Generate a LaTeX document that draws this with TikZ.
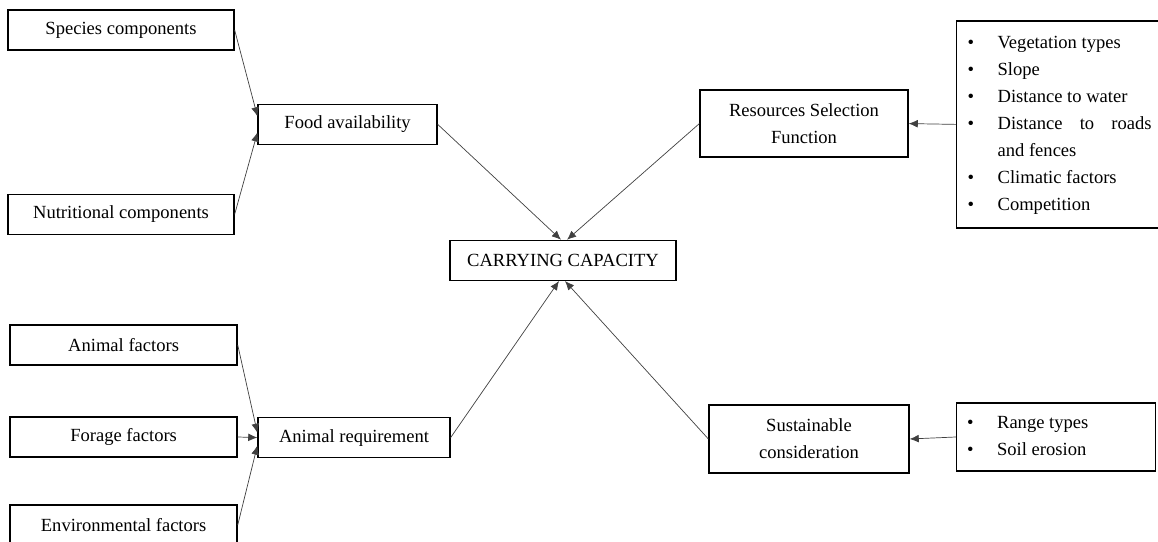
\documentclass[tikz,border=0pt]{standalone}
\usepackage{fontspec}
\setmainfont{Liberation Serif}
\usepackage{array}
\usetikzlibrary{arrows.meta}

\begin{document}
\begin{tikzpicture}[
  box/.style={draw, line width=0.9pt, inner sep=0pt, align=center,
    font=\fontsize{13.2}{19.2}\selectfont},
  listbox/.style={draw, line width=0.9pt, inner xsep=0.225cm, inner ysep=0pt,
    anchor=west, font=\fontsize{13.2}{19.2}\selectfont},
  link/.style={-{Latex[length=6.5pt,width=5.5pt]}, draw=black!75, line width=0.5pt}]
  \useasboundingbox (0,0) rectangle (28.95,13.55);

  % left hand inputs
  \node[box, minimum width=5.65cm, minimum height=1cm] (species) at (3.025,12.8) {Species components};
  \node[box, minimum width=5.65cm, minimum height=1cm] (nutrition) at (3.025,8.19) {Nutritional components};
  \node[box, minimum width=5.675cm, minimum height=1cm] (animal) at (3.09,4.925) {Animal factors};
  \node[box, minimum width=5.675cm, minimum height=1cm] (forage) at (3.09,2.625) {Forage factors};
  \node[box, minimum width=5.675cm, minimum height=1cm] (environ) at (3.09,0.425) {Environmental factors};

  \node[box, minimum width=4.475cm, minimum height=1cm] (food) at (8.69,10.44) {Food availability};
  \node[box, minimum width=4.8cm, minimum height=1cm] (needs) at (8.85,2.61) {Animal requirement};

  \node[box, minimum width=5.65cm, minimum height=1cm] (cc) at (14.075,7.04) {CARRYING CAPACITY};

  % right hand side
  \node[box, minimum width=5.2cm, minimum height=1.675cm] (rsf) at (20.1,10.46) {Resources Selection\\Function};
  \node[box, minimum width=5cm, minimum height=1.7cm] (sust) at (20.225,2.575) {Sustainable\\consideration};

  \node[listbox, minimum width=5.15cm, minimum height=5.175cm] (rsflist) at (23.9,10.44) {%
    \begin{tabular}{@{}p{0.75cm}@{}p{3.85cm}@{}}
      \textbullet & Vegetation types\\
      \textbullet & Slope\\
      \textbullet & Distance to water\\
      \textbullet & Distance to roads and fences\\
      \textbullet & Climatic factors\\
      \textbullet & Competition
    \end{tabular}};
  \node[listbox, minimum width=4.975cm, minimum height=1.7cm] (rangelist) at (23.9,2.625) {%
    \begin{tabular}{@{}p{0.75cm}@{}p{3.7cm}@{}}
      \textbullet & Range types\\
      \textbullet & Soil erosion
    \end{tabular}};

  \draw[link] (species.east) -- ([yshift=0.2cm]food.west);
  \draw[link] (nutrition.east) -- ([yshift=-0.2cm]food.west);

  \draw[link] (animal.east) -- ([yshift=0.12cm]needs.west);
  \draw[link] (forage.east) -- (needs.west);
  \draw[link] (environ.east) -- ([yshift=-0.2cm]needs.west);

  \draw[link] (food.east) -- ([xshift=-0.05cm]cc.north);
  \draw[link] (rsf.west) -- ([xshift=0.1cm]cc.north);
  \draw[link] (needs.east) -- ([xshift=-0.1cm]cc.south);
  \draw[link] (sust.west) -- ([xshift=0.05cm]cc.south);

  \draw[link] (rsflist.west) -- (rsf.east);
  \draw[link] (rangelist.west) -- (sust.east);
\end{tikzpicture}
\end{document}
